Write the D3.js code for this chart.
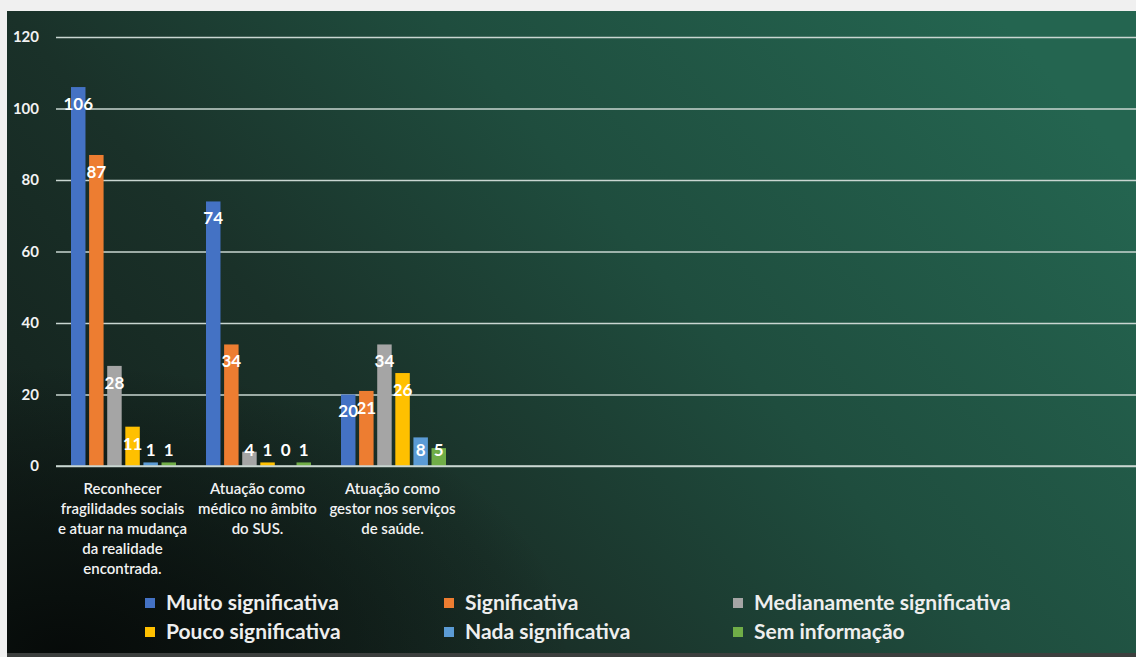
<!DOCTYPE html>
<html>
<head>
  <meta charset="utf-8">
  <title>Bar chart</title>
  <script src="https://d3js.org/d3.v7.min.js"></script>
  <style>
    body { margin: 0; background: #f0f0f0; }
    svg { display: block; }
  </style>
</head>
<body>
  <script>
    var categories = [
      ['Reconhecer', 'fragilidades sociais', 'e atuar na mudança', 'da realidade', 'encontrada.'],
      ['Atuação como', 'médico no âmbito', 'do SUS.'],
      ['Atuação como', 'gestor nos serviços', 'de saúde.']
    ];
    var seriesNames = ['Muito significativa', 'Significativa', 'Medianamente significativa',
      'Pouco significativa', 'Nada significativa', 'Sem informação'];
    var muito = [106, 74, 20];
    var significativa = [87, 34, 21];
    var medianamente = [28, 4, 34];
    var pouco = [11, 1, 26];
    var nada = [1, 0, 8];
    var semInfo = [1, 1, 5];
    var yTicks = [0, 20, 40, 60, 80, 100, 120];
    var colors = ['#4472C4', '#ED7D31', '#A5A5A5', '#FFC000', '#5B9BD5', '#70AD47'];

    var seriesValues = [muito, significativa, medianamente, pouco, nada, semInfo];
    var width = 1136, height = 657;
    var panel = { x: 7, y: 11, w: 1129, h: 642 };
    var plot = { left: 56, right: 1136, top: 37, bottom: 466 };
    var bandW = 135;

    var svg = d3.select('body').append('svg')
      .attr('width', width)
      .attr('height', height);

    // chalkboard-ish background
    var defs = svg.append('defs');
    var grad = defs.append('linearGradient')
      .attr('id', 'bg')
      .attr('x1', '0%').attr('y1', '75%')
      .attr('x2', '100%').attr('y2', '25%');
    grad.append('stop').attr('offset', '0%').attr('stop-color', '#14221d');
    grad.append('stop').attr('offset', '30%').attr('stop-color', '#1a3129');
    grad.append('stop').attr('offset', '60%').attr('stop-color', '#1f4d3e');
    grad.append('stop').attr('offset', '100%').attr('stop-color', '#246550');
    var shade = defs.append('radialGradient')
      .attr('id', 'shade')
      .attr('cx', '5%').attr('cy', '100%').attr('r', '45%');
    shade.append('stop').attr('offset', '0%').attr('stop-color', '#050807').attr('stop-opacity', 0.9);
    shade.append('stop').attr('offset', '100%').attr('stop-color', '#050807').attr('stop-opacity', 0);

    svg.append('rect')
      .attr('x', panel.x).attr('y', panel.y)
      .attr('width', panel.w).attr('height', panel.h)
      .attr('fill', 'url(#bg)');
    svg.append('rect')
      .attr('x', panel.x).attr('y', panel.y)
      .attr('width', panel.w).attr('height', panel.h)
      .attr('fill', 'url(#shade)');
    svg.append('rect')
      .attr('x', panel.x).attr('y', panel.y + panel.h)
      .attr('width', panel.w).attr('height', height - panel.y - panel.h)
      .attr('fill', '#3c3f3e');

    var x = d3.scaleBand()
      .domain(d3.range(categories.length))
      .range([plot.left, plot.left + bandW * categories.length]);
    var xSub = d3.scaleBand()
      .domain(d3.range(seriesNames.length))
      .range([15, 120])
      .paddingInner(0.2);
    var y = d3.scaleLinear()
      .domain([0, 120])
      .range([plot.bottom, plot.top]);

    // gridlines
    var yAxis = d3.axisLeft(y)
      .tickValues(yTicks)
      .tickSize(-(plot.right - plot.left))
      .tickPadding(17);
    var yg = svg.append('g')
      .attr('transform', 'translate(' + plot.left + ',0)')
      .call(yAxis);
    yg.select('.domain').remove();
    yg.selectAll('.tick line')
      .attr('stroke', '#c9d6d1')
      .attr('stroke-width', 1.5);
    yg.selectAll('.tick text')
      .attr('fill', '#f2f2f2')
      .style('font-family', 'Lato, sans-serif')
      .style('font-weight', 'bold')
      .style('font-size', '15px');

    // bars
    var groups = svg.append('g').selectAll('g')
      .data(categories)
      .enter()
      .append('g')
      .attr('transform', function(d, i) { return 'translate(' + x(i) + ',0)'; });

    groups.each(function(c, ci) {
      var g = d3.select(this);
      var vals = seriesValues.map(function(s) { return s[ci]; });
      g.selectAll('rect')
        .data(vals)
        .enter()
        .append('rect')
        .attr('x', function(d, si) { return xSub(si); })
        .attr('y', function(d) { return y(d); })
        .attr('width', xSub.bandwidth())
        .attr('height', function(d) { return plot.bottom - y(d); })
        .attr('fill', function(d, si) { return colors[si]; });
      g.selectAll('text.lbl')
        .data(vals)
        .enter()
        .append('text')
        .attr('class', 'lbl')
        .attr('x', function(d, si) { return xSub(si) + xSub.bandwidth() / 2; })
        .attr('y', function(d) { return Math.min(y(d) + 17, 450); })
        .attr('dy', '0.35em')
        .attr('text-anchor', 'middle')
        .attr('fill', '#ffffff')
        .style('font-family', 'Lato, sans-serif')
        .style('font-weight', 'bold')
        .style('font-size', '17px')
        .text(function(d) { return d; });
    });

    // category axis
    svg.append('line')
      .attr('x1', plot.left).attr('x2', plot.right)
      .attr('y1', plot.bottom).attr('y2', plot.bottom)
      .attr('stroke', '#c9d6d1')
      .attr('stroke-width', 1.5);

    var catLabels = svg.append('g').selectAll('text')
      .data(categories)
      .enter()
      .append('text')
      .attr('text-anchor', 'middle')
      .attr('fill', '#f2f2f2')
      .style('font-family', 'Lato, sans-serif')
      .style('font-weight', '600')
      .style('font-size', '15px')
      .attr('transform', function(d, i) { return 'translate(' + (x(i) + bandW / 2 - 1) + ',494)'; });
    catLabels.selectAll('tspan')
      .data(function(d) { return d; })
      .enter()
      .append('tspan')
      .attr('x', 0)
      .attr('y', function(d, i) { return i * 20; })
      .text(function(d) { return d; });

    // legend
    var legendCols = [145, 444, 733];
    var legendRows = [603, 632];
    var legend = svg.append('g').selectAll('g')
      .data(seriesNames)
      .enter()
      .append('g')
      .attr('transform', function(d, i) {
        return 'translate(' + legendCols[i % 3] + ',' + legendRows[Math.floor(i / 3)] + ')';
      });
    legend.append('rect')
      .attr('x', 0).attr('y', -5)
      .attr('width', 10).attr('height', 10)
      .attr('fill', function(d, i) { return colors[i]; });
    legend.append('text')
      .attr('x', 21)
      .attr('dy', '0.35em')
      .attr('fill', '#eeeeee')
      .style('font-family', 'Lato, sans-serif')
      .style('font-weight', 'bold')
      .style('font-size', '21px')
      .text(function(d) { return d; });
  </script>
</body>
</html>
